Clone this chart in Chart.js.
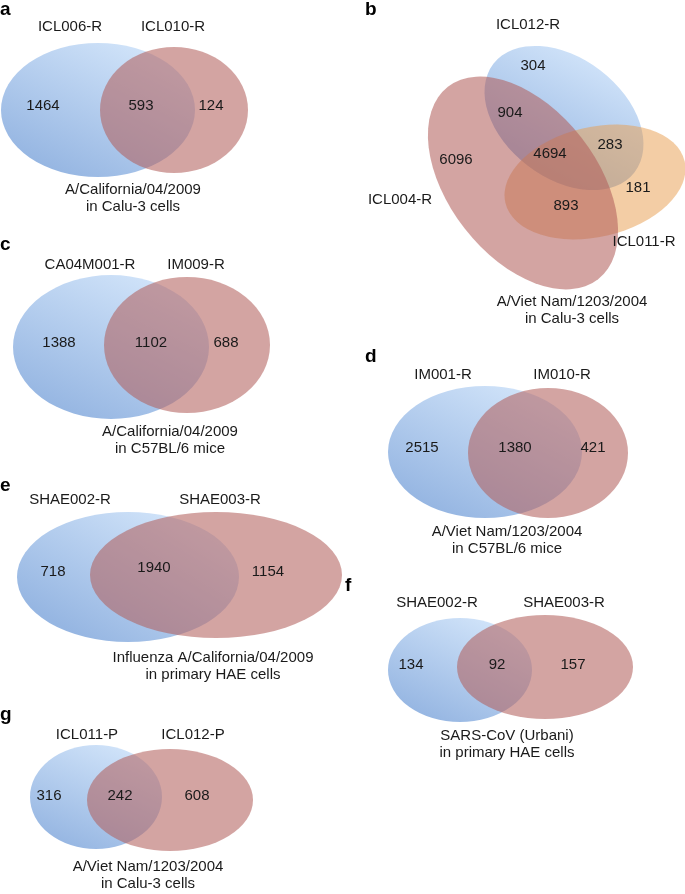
<!DOCTYPE html>
<html>
<head>
<meta charset="utf-8">
<title>Venn diagrams</title>
<script src="https://cdn.jsdelivr.net/npm/chart.js@4.4.1/dist/chart.umd.min.js"></script>
<style>
  html, body { margin: 0; padding: 0; background: #fff; }
  #wrap { width: 685px; height: 894px; }
</style>
</head>
<body>
<div id="wrap"><canvas id="venn"></canvas></div>
<script>
// ---- data ----
const panelLetters = ['a', 'b', 'c', 'd', 'e', 'f', 'g'];

const namesA = ['ICL006-R', 'ICL010-R'];
const namesB = ['ICL012-R', 'ICL004-R', 'ICL011-R'];
const namesC = ['CA04M001-R', 'IM009-R'];
const namesD = ['IM001-R', 'IM010-R'];
const namesE = ['SHAE002-R', 'SHAE003-R'];
const namesF = ['SHAE002-R', 'SHAE003-R'];
const namesG = ['ICL011-P', 'ICL012-P'];

// two-set panels: [first only, both, second only]
const countsA = [1464, 593, 124];
const countsC = [1388, 1102, 688];
const countsD = [2515, 1380, 421];
const countsE = [718, 1940, 1154];
const countsF = [134, 92, 157];
const countsG = [316, 242, 608];
// panel b regions: 012 only, 012+004, all three, 012+011, 011 only, 004+011, 004 only
const countsB = [304, 904, 4694, 283, 181, 893, 6096];

const captionA = ['A/California/04/2009', 'in Calu-3 cells'];
const captionB = ['A/Viet Nam/1203/2004', 'in Calu-3 cells'];
const captionC = ['A/California/04/2009', 'in C57BL/6 mice'];
const captionD = ['A/Viet Nam/1203/2004', 'in C57BL/6 mice'];
const captionE = ['Influenza A/California/04/2009', 'in primary HAE cells'];
const captionF = ['SARS-CoV (Urbani)', 'in primary HAE cells'];
const captionG = ['A/Viet Nam/1203/2004', 'in Calu-3 cells'];

// ---- layout (figure units, 1 unit = 1 px on the axes) ----
// ellipse: [cx, cy, rx, ry, rotationDeg, colour]; drawn in list order
const panels = [
  { letter: [0, 10], names: namesA, nameXY: [[70, 27], [173, 27]],
    sets: [[98, 110, 97, 67, 0, 'blue'], [174, 110, 74, 63, 0, 'red']],
    counts: countsA, countXY: [[43, 106], [141, 106], [211, 106]],
    caption: captionA, capXY: [133, 190] },
  { letter: [365, 10], names: namesB, nameXY: [[528, 25], [400, 200], [644, 242]],
    sets: [[564, 118, 89, 60, 37.5, 'blue'], [595, 182, 92, 55, -13, 'orange'], [523, 183, 122, 74, 52, 'red']],
    counts: countsB,
    countXY: [[533, 66], [510, 113], [550, 154], [610, 145], [638, 188], [566, 206], [456, 160]],
    caption: captionB, capXY: [572, 302] },
  { letter: [0, 245], names: namesC, nameXY: [[90, 265], [196, 265]],
    sets: [[111, 347, 98, 72, 0, 'blue'], [187, 345, 83, 68, 0, 'red']],
    counts: countsC, countXY: [[59, 343], [151, 343], [226, 343]],
    caption: captionC, capXY: [170, 432] },
  { letter: [365, 357], names: namesD, nameXY: [[443, 375], [562, 375]],
    sets: [[485, 452, 97, 66, 0, 'blue'], [548, 453, 80, 65, 0, 'red']],
    counts: countsD, countXY: [[422, 448], [515, 448], [593, 448]],
    caption: captionD, capXY: [507, 532] },
  { letter: [0, 486], names: namesE, nameXY: [[70, 500], [220, 500]],
    sets: [[128, 577, 111, 65, 0, 'blue'], [216, 575, 126, 63, 0, 'red']],
    counts: countsE, countXY: [[53, 572], [154, 568], [268, 572]],
    caption: captionE, capXY: [213, 658] },
  { letter: [345, 586], names: namesF, nameXY: [[437, 603], [564, 603]],
    sets: [[460, 670, 72, 52, 0, 'blue'], [545, 667, 88, 52, 0, 'red']],
    counts: countsF, countXY: [[411, 665], [497, 665], [573, 665]],
    caption: captionF, capXY: [507, 736] },
  { letter: [0, 715], names: namesG, nameXY: [[87, 735], [193, 735]],
    sets: [[96, 797, 66, 52, 0, 'blue'], [170, 800, 83, 51, 0, 'red']],
    counts: countsG, countXY: [[49, 796], [120, 796], [197, 796]],
    caption: captionG, capXY: [148, 867] }
];

const FONT = '"Liberation Sans", Arial, Helvetica, sans-serif';
const TEXT = '#1a1a1a';

// Draws ellipses and texts in scale coordinates
const vennPlugin = {
  id: 'venn',
  beforeDatasetsDraw(chart) {
    const { ctx, scales: { x, y } } = chart;
    const px = v => x.getPixelForValue(v);
    const py = v => y.getPixelForValue(v);

    panels.forEach((p, i) => {
      // ellipses
      p.sets.forEach(s => {
        const [cx, cy, rx, ry, rot, col] = s;
        const X = px(cx), Y = py(cy);
        const RX = px(cx + rx) - X, RY = py(cy + ry) - Y;
        ctx.save();
        if (col === 'blue') {
          const g = ctx.createLinearGradient(X + RX * 0.35, Y - RY, X - RX * 0.35, Y + RY);
          g.addColorStop(0, '#d0e3f9');
          g.addColorStop(1, '#96b6e2');
          ctx.fillStyle = g;
        } else if (col === 'red') {
          ctx.fillStyle = 'rgba(178, 95, 92, 0.57)';
        } else {
          ctx.fillStyle = 'rgba(232, 160, 82, 0.52)';
        }
        ctx.beginPath();
        ctx.ellipse(X, Y, Math.abs(RX), Math.abs(RY), rot * Math.PI / 180, 0, Math.PI * 2);
        ctx.fill();
        ctx.restore();
      });

      ctx.save();
      ctx.fillStyle = TEXT;
      ctx.textAlign = 'center';
      ctx.textBaseline = 'middle';
      ctx.font = '15px ' + FONT;
      p.names.forEach((n, k) => ctx.fillText(n, px(p.nameXY[k][0]), py(p.nameXY[k][1])));
      p.counts.forEach((c, k) => ctx.fillText(String(c), px(p.countXY[k][0]), py(p.countXY[k][1])));
      ctx.fillText(p.caption[0], px(p.capXY[0]), py(p.capXY[1]));
      ctx.fillText(p.caption[1], px(p.capXY[0]), py(p.capXY[1] + 17));

      // panel letter
      ctx.textAlign = 'left';
      ctx.textBaseline = 'middle';
      ctx.font = 'bold 19px ' + FONT;
      ctx.fillStyle = '#000';
      ctx.fillText(panelLetters[i], px(p.letter[0]), py(p.letter[1]));
      ctx.restore();
    });
  }
};

new Chart(document.getElementById('venn'), {
  type: 'scatter',
  data: { datasets: [{ data: [], pointRadius: 0 }] },
  options: {
    responsive: true,
    maintainAspectRatio: false,
    animation: false,
    events: [],
    layout: { padding: 0 },
    plugins: { legend: { display: false }, tooltip: { enabled: false } },
    scales: {
      x: { type: 'linear', min: 0, max: 685, display: false },
      y: { type: 'linear', min: 0, max: 894, reverse: true, display: false }
    }
  },
  plugins: [vennPlugin]
});
</script>
</body>
</html>
